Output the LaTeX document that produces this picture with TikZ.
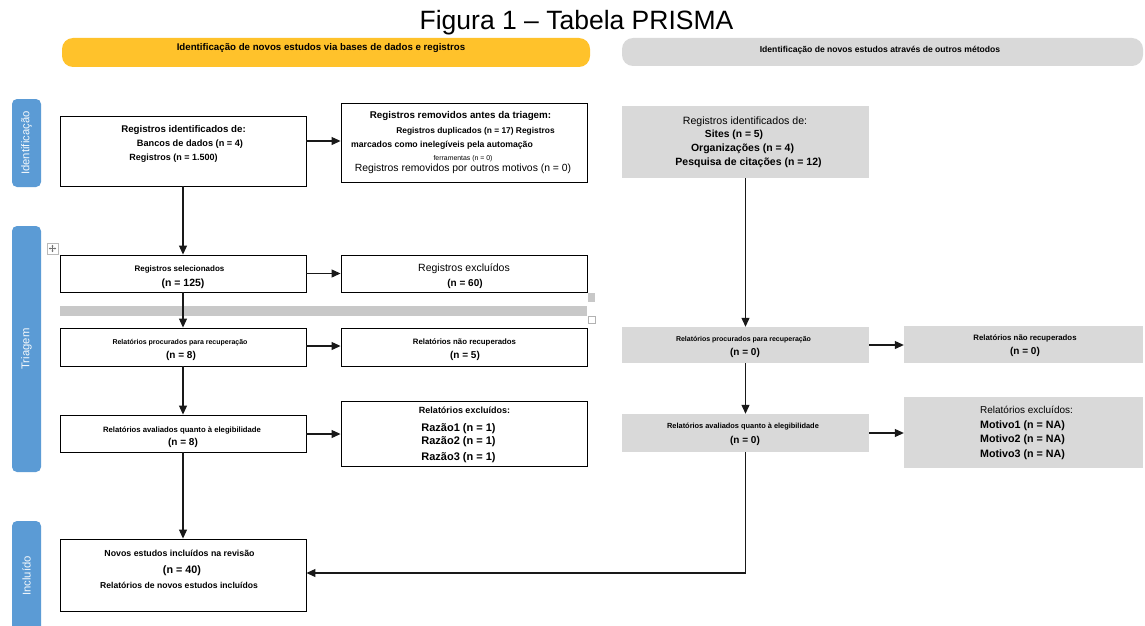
\documentclass[tikz,border=0pt]{standalone}
\usepackage{fontspec}
\setmainfont{Liberation Sans}
\usetikzlibrary{arrows.meta}
\definecolor{tabblue}{HTML}{5B9BD5}
\definecolor{hdryellow}{HTML}{FFC22B}
\definecolor{boxgrey}{HTML}{D9D9D9}
\definecolor{stripgrey}{HTML}{C8C8C8}
\newcommand\fsz[1]{\fontsize{#1}{#1}\selectfont}
% \lbl{name}{x}{y-center}{size}{font}{text}
\newcommand\lbl[6]{\node[anchor=base, inner sep=0pt, font=\fsz{#4}#5] (#1) at (#2,{#3+0.36*#4}) {#6};}
\begin{document}
\begin{tikzpicture}[x=1pt,y=-1pt,
  wbox/.style={draw=black, line width=0.9pt, fill=white, inner sep=0pt},
  gbox/.style={fill=boxgrey, draw=none, inner sep=0pt},
  tab/.style={fill=tabblue, rounded corners=5pt, inner sep=0pt, text=white!94!tabblue, font=\fsz{11.3}},
  hdr/.style={rounded corners=11pt, inner sep=0pt},
  arr/.style={line width=1.1pt, draw=black!90, -{Triangle[length=9pt,width=8pt]}},
  ln/.style={line width=1pt, draw=black!90}]
\clip (0,0) rectangle (1145,626);
\fill[white] (0,0) rectangle (1145,626);

% title
\lbl{title}{576.5}{20}{26.5}{}{Figura 1 -- Tabela PRISMA}

% header bars
\node[hdr, fill=hdryellow, minimum width=528pt, minimum height=29pt] (hy) at (326,52.5) {};
\node[hdr, fill=boxgrey, minimum width=521pt, minimum height=28pt] (hg) at (882.5,52) {};
\lbl{hyt}{321}{47}{9.7}{\bfseries}{Identificação de novos estudos via bases de dados e registros}
\lbl{hgt}{880}{49}{8.6}{\bfseries}{Identificação de novos estudos através de outros métodos}

% side tabs
\node[tab, rotate=90, minimum width=88pt, minimum height=29pt] (tab1) at (26.5,143) {Identificação};
\node[tab, rotate=90, minimum width=246pt, minimum height=29pt] (tab2) at (26.5,349) {Triagem};
\node[tab, rotate=90, minimum width=110pt, minimum height=29pt] (tab3) at (26.5,576) {Incluído};

% table artefacts
\draw[gray!55, line width=0.5pt] (47,243) rectangle (58,254);
\draw[gray!90!black, line width=0.5pt, {Stealth[length=1.6pt,width=2pt]}-{Stealth[length=1.6pt,width=2pt]}] (48.8,248.5) -- (56.2,248.5);
\draw[gray!90!black, line width=0.5pt, {Stealth[length=1.6pt,width=2pt]}-{Stealth[length=1.6pt,width=2pt]}] (52.5,244.8) -- (52.5,252.2);
\fill[stripgrey] (60,306) rectangle (587,316);
\fill[stripgrey] (588,293) rectangle (595,302);
\draw[gray!60, line width=0.6pt] (588.5,316.5) rectangle (595,323);

% left column boxes
\node[wbox, minimum width=246pt, minimum height=70pt] (A) at (183,151) {};
\node[wbox, minimum width=246pt, minimum height=79pt] (B) at (464,142.5) {};
\node[wbox, minimum width=246pt, minimum height=37pt] (C) at (183,273.5) {};
\node[wbox, minimum width=246pt, minimum height=37pt] (D) at (464,273.5) {};
\node[wbox, minimum width=246pt, minimum height=38pt] (E) at (183,347) {};
\node[wbox, minimum width=246pt, minimum height=38pt] (F) at (464,347) {};
\node[wbox, minimum width=246pt, minimum height=37pt] (G) at (183,433.5) {};
\node[wbox, minimum width=246pt, minimum height=65pt] (H) at (464,433.5) {};
\node[wbox, minimum width=246pt, minimum height=72pt] (I) at (183,575) {};

% right column boxes
\node[gbox, minimum width=247pt, minimum height=72pt] (J) at (745.5,142) {};
\node[gbox, minimum width=247pt, minimum height=36pt] (K) at (745.5,345) {};
\node[gbox, minimum width=239pt, minimum height=37pt] (L) at (1023.5,344.5) {};
\node[gbox, minimum width=247pt, minimum height=38pt] (M) at (745.5,433) {};
\node[gbox, minimum width=239pt, minimum height=71pt] (N) at (1023.5,432.5) {};

% texts left
\lbl{A1}{183.5}{129}{9.7}{\bfseries}{Registros identificados de:}
\lbl{A2}{190}{143}{9.2}{\bfseries}{Bancos de dados (n = 4)}
\lbl{A3}{173.5}{157}{9}{\bfseries}{Registros (n = 1.500)}

\lbl{B1}{460.5}{115}{9.8}{\bfseries}{Registros removidos antes da triagem:}
\lbl{B2}{475.5}{130}{8.4}{\bfseries}{Registros duplicados (n = 17) Registros}
\lbl{B3}{442}{144}{8.7}{\bfseries}{marcados como inelegíveis pela automação}
\lbl{B4}{463}{158.5}{6.9}{}{ferramentas (n = 0)}
\lbl{B5}{463}{168}{10.4}{}{Registros removidos por outros motivos (n = 0)}

\lbl{C1}{179.5}{269}{8}{\bfseries}{Registros selecionados}
\lbl{C2}{183}{283}{10.5}{\bfseries}{(n = 125)}
\lbl{D1}{464}{268}{10.5}{}{Registros excluídos}
\lbl{D2}{465}{283}{10}{\bfseries}{(n = 60)}

\lbl{E1}{180}{342}{7}{\bfseries}{Relatórios procurados para recuperação}
\lbl{E2}{181}{355}{10}{\bfseries}{(n = 8)}
\lbl{F1}{464.5}{342}{7.8}{\bfseries}{Relatórios não recuperados}
\lbl{F2}{465}{355}{10}{\bfseries}{(n = 5)}

\lbl{G1}{182}{430}{7.7}{\bfseries}{Relatórios avaliados quanto à elegibilidade}
\lbl{G2}{183}{442}{10}{\bfseries}{(n = 8)}
\lbl{H1}{464.5}{410}{9}{\bfseries}{Relatórios excluídos:}
\lbl{H2}{458.5}{428}{11}{\bfseries}{Razão1 (n = 1)}
\lbl{H3}{458.5}{441}{11}{\bfseries}{Razão2 (n = 1)}
\lbl{H4}{458.5}{457}{11}{\bfseries}{Razão3 (n = 1)}

\lbl{I1}{179.5}{553}{8.8}{\bfseries}{Novos estudos incluídos na revisão}
\lbl{I2}{182}{570}{10.8}{\bfseries}{(n = 40)}
\lbl{I3}{179}{585}{8.6}{\bfseries}{Relatórios de novos estudos incluídos}

% texts right
\lbl{J1}{745}{121}{10.6}{}{Registros identificados de:}
\lbl{J2}{734}{134}{10.3}{\bfseries}{Sites (n = 5)}
\lbl{J3}{742.5}{148}{10.5}{\bfseries}{Organizações (n = 4)}
\lbl{J4}{748.5}{162}{10.5}{\bfseries}{Pesquisa de citações (n = 12)}

\lbl{K1}{743.5}{339}{7}{\bfseries}{Relatórios procurados para recuperação}
\lbl{K2}{745}{352}{10}{\bfseries}{(n = 0)}
\lbl{L1}{1025}{338}{7.8}{\bfseries}{Relatórios não recuperados}
\lbl{L2}{1025}{351}{10}{\bfseries}{(n = 0)}

\lbl{M1}{743}{426}{7.4}{\bfseries}{Relatórios avaliados quanto à elegibilidade}
\lbl{M2}{745}{440}{10}{\bfseries}{(n = 0)}
\lbl{N1}{1026.5}{410}{10}{}{Relatórios excluídos:}
\lbl{N2}{1022.5}{425}{10.7}{\bfseries}{Motivo1 (n = NA)}
\lbl{N3}{1022.5}{439}{10.7}{\bfseries}{Motivo2 (n = NA)}
\lbl{N4}{1022.5}{454}{10.7}{\bfseries}{Motivo3 (n = NA)}

% connectors left
\draw[arr] (A.east |- 0,141) -- (B.west |- 0,141);
\draw[arr] (A.south) -- (C.north);
\draw[arr] (C.east) -- (D.west);
\draw[arr] (C.south) -- (E.north);
\draw[arr] (E.east |- 0,346) -- (F.west |- 0,346);
\draw[arr] (E.south) -- (G.north);
\draw[arr] (G.east |- 0,434) -- (H.west |- 0,434);
\draw[arr] (G.south) -- (I.north);

% connectors right
\draw[arr] (J.south) -- (K.north);
\draw[arr] (K.east) -- (L.west |- K.east);
\draw[arr] (K.south) -- (M.north);
\draw[arr] (M.east) -- (N.west |- M.east);
\draw[arr] (M.south) |- (I.east |- 0,573);
\end{tikzpicture}
\end{document}
